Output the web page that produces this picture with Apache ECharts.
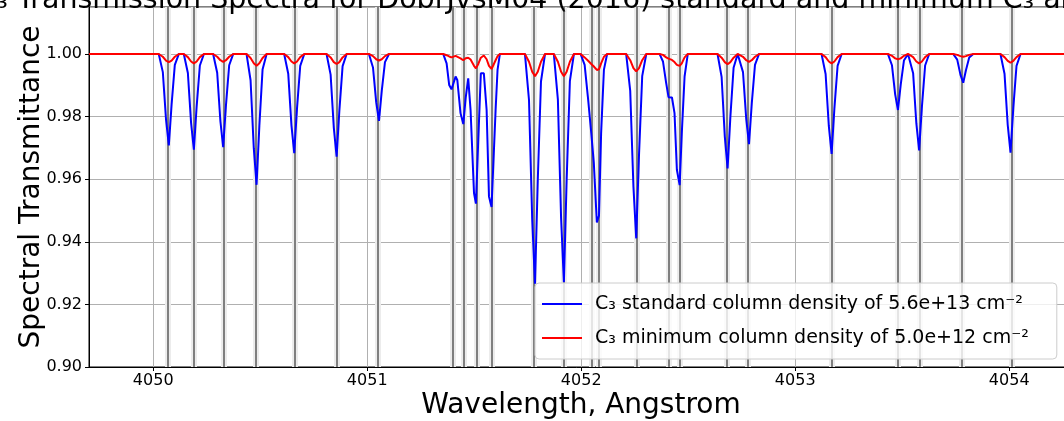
<!DOCTYPE html>
<html>
<head>
<meta charset="utf-8">
<script src="https://cdn.jsdelivr.net/npm/echarts@6/dist/echarts.min.js"></script>
<style>
  html, body { margin: 0; padding: 0; background: #fff; }
  #chart { width: 1064px; height: 421px; }
</style>
</head>
<body>
<div id="chart"></div>
<script>
// line centres (vertical markers), Angstrom
const lineWavelengths = [
  4050.073, 4050.190, 4050.327, 4050.483, 4050.659, 4050.857, 4051.055,
  4051.396, 4051.450, 4051.507, 4051.579, 4051.784, 4051.919, 4052.047,
  4052.078, 4052.257, 4052.414, 4052.460, 4052.684, 4052.784, 4053.170,
  4053.480, 4053.579, 4053.785, 4054.006
]

const xTicks = [4050, 4051, 4052, 4053, 4054]

const wavelength = [
  4049.700,
  4050.026, 4050.045, 4050.060, 4050.073, 4050.086, 4050.101, 4050.120,
  4050.143, 4050.162, 4050.177, 4050.190, 4050.203, 4050.218, 4050.237,
  4050.280, 4050.299, 4050.314, 4050.327, 4050.340, 4050.355, 4050.374,
  4050.436, 4050.455, 4050.470, 4050.483, 4050.496, 4050.511, 4050.530,
  4050.612, 4050.631, 4050.646, 4050.659, 4050.672, 4050.687, 4050.706,
  4050.810, 4050.829, 4050.844, 4050.857, 4050.870, 4050.885, 4050.904,
  4051.008, 4051.027, 4051.042, 4051.055, 4051.068, 4051.083, 4051.102,
  4051.355, 4051.371, 4051.383, 4051.394, 4051.413, 4051.421, 4051.436, 4051.449,
  4051.460, 4051.472, 4051.483, 4051.499, 4051.508, 4051.519, 4051.531, 4051.545,
  4051.558, 4051.569, 4051.581, 4051.589, 4051.600, 4051.609, 4051.620,
  4051.737, 4051.756, 4051.771, 4051.784, 4051.797, 4051.812, 4051.831,
  4051.872, 4051.891, 4051.906, 4051.919, 4051.932, 4051.947, 4051.966,
  4051.997, 4052.016, 4052.031, 4052.047, 4052.059, 4052.073, 4052.083, 4052.093, 4052.106, 4052.121,
  4052.210, 4052.229, 4052.244, 4052.257, 4052.270, 4052.285, 4052.304,
  4052.366, 4052.382, 4052.397, 4052.408, 4052.424, 4052.436, 4052.447, 4052.460, 4052.470, 4052.483, 4052.498,
  4052.637, 4052.656, 4052.671, 4052.684, 4052.697, 4052.712, 4052.731,
  4052.737, 4052.756, 4052.771, 4052.784, 4052.797, 4052.812, 4052.831,
  4053.123, 4053.142, 4053.157, 4053.170, 4053.183, 4053.198, 4053.217,
  4053.433, 4053.452, 4053.467, 4053.480, 4053.493, 4053.508, 4053.527,
  4053.532, 4053.551, 4053.566, 4053.579, 4053.592, 4053.607, 4053.626,
  4053.738, 4053.757, 4053.772, 4053.785, 4053.798, 4053.813, 4053.832,
  4053.959, 4053.978, 4053.993, 4054.006, 4054.019, 4054.034, 4054.053,
  4054.298
]

// C3 standard column density 5.6e+13
const standardT = [
  1,
  1, 0.9942, 0.9790, 0.9708, 0.9839, 0.9965, 1,
  1, 0.9939, 0.9780, 0.9694, 0.9832, 0.9963, 1,
  1, 0.9940, 0.9785, 0.9702, 0.9836, 0.9964, 1,
  1, 0.9916, 0.9699, 0.9582, 0.9770, 0.9950, 1,
  1, 0.9937, 0.9772, 0.9683, 0.9826, 0.9962, 1,
  1, 0.9934, 0.9764, 0.9672, 0.9820, 0.9961, 1,
  1, 0.9957, 0.9846, 0.9786, 0.9882, 0.9974, 1,
  1, 0.9970, 0.9901, 0.9887, 0.9928, 0.9917, 0.9811, 0.9776,
  0.9859, 0.9922, 0.9821, 0.9556, 0.9522, 0.9726, 0.9938, 0.9938,
  0.9821, 0.9545, 0.9511, 0.9511, 0.9821, 0.9949, 1,
  1, 0.9853, 0.9472, 0.9266, 0.9596, 0.9912, 1,
  1, 0.9854, 0.9475, 0.9271, 0.9599, 0.9913, 1,
  1, 0.9965, 0.9864, 0.9747, 0.9651, 0.9462, 0.9483, 0.9747, 0.9949, 1,
  1, 0.9882, 0.9576, 0.9411, 0.9676, 0.9929, 1,
  1, 0.9976, 0.9907, 0.9862, 0.9861, 0.9811, 0.9630, 0.9581, 0.9747, 0.9928, 1,
  1, 0.9927, 0.9736, 0.9634, 0.9799, 0.9956, 1,
  1, 0.9942, 0.9793, 0.9712, 0.9842, 0.9965, 1,
  1, 0.9936, 0.9770, 0.9681, 0.9825, 0.9962, 1,
  1, 0.9964, 0.9871, 0.9821, 0.9902, 0.9979, 1,
  1, 0.9938, 0.9778, 0.9692, 0.9831, 0.9963, 1,
  1, 0.9982, 0.9934, 0.9908, 0.9949, 0.9989, 1,
  1, 0.9937, 0.9773, 0.9685, 0.9827, 0.9962, 1,
  1
]

// C3 minimum column density 5.0e+12
const minimumT = [
  1,
  1, 0.9991, 0.9979, 0.9974, 0.9979, 0.9991, 1,
  1, 0.9990, 0.9976, 0.9970, 0.9976, 0.9990, 1,
  1, 0.9991, 0.9980, 0.9975, 0.9980, 0.9991, 1,
  1, 0.9987, 0.9970, 0.9962, 0.9970, 0.9987, 1,
  1, 0.9990, 0.9976, 0.9970, 0.9976, 0.9990, 1,
  1, 0.9989, 0.9974, 0.9968, 0.9974, 0.9989, 1,
  1, 0.9993, 0.9983, 0.9979, 0.9983, 0.9993, 1,
  1, 0.9996, 0.9992, 0.9989, 0.9994, 0.9992, 0.9986, 0.9980,
  0.9986, 0.9988, 0.9982, 0.9962, 0.9954, 0.9968, 0.9988, 0.9995,
  0.9983, 0.9962, 0.9952, 0.9958, 0.9980, 0.9993, 1,
  1, 0.9975, 0.9943, 0.9929, 0.9943, 0.9975, 1,
  1, 0.9975, 0.9943, 0.9929, 0.9943, 0.9975, 1,
  1, 0.9989, 0.9979, 0.9968, 0.9960, 0.9949, 0.9951, 0.9970, 0.9991, 1,
  1, 0.9980, 0.9955, 0.9944, 0.9955, 0.9980, 1,
  1, 0.9997, 0.9989, 0.9985, 0.9981, 0.9974, 0.9965, 0.9962, 0.9970, 0.9989, 1,
  1, 0.9988, 0.9974, 0.9967, 0.9974, 0.9988, 1,
  1, 0.9991, 0.9980, 0.9975, 0.9980, 0.9991, 1,
  1, 0.9990, 0.9976, 0.9970, 0.9976, 0.9990, 1,
  1, 0.9994, 0.9986, 0.9983, 0.9986, 0.9994, 1,
  1, 0.9990, 0.9976, 0.9970, 0.9976, 0.9990, 1,
  1, 0.9997, 0.9993, 0.9991, 0.9993, 0.9997, 1,
  1, 0.9990, 0.9978, 0.9972, 0.9978, 0.9990, 1,
  1
]

const standardName = 'C₃ standard column density of 5.6e+13 cm⁻²'
const minimumName = 'C₃ minimum column density of 5.0e+12 cm⁻²'

const font = 'DejaVu Sans'
const chart = echarts.init(document.getElementById('chart'), null, { renderer: 'canvas' })

function markerSeries(name, width, color, z) {
  return {
    name: name,
    type: 'line',
    data: [],
    silent: true,
    z: z,
    markLine: {
      z: z,
      silent: true,
      animation: false,
      symbol: ['none', 'none'],
      label: { show: false },
      lineStyle: { type: 'solid', width: width, color: color },
      data: lineWavelengths.map(w => ({ xAxis: w }))
    }
  }
}

chart.setOption({
  animation: false,
  title: {
    text: 'C₃ Transmission Spectra for DobrJvsM04 (2016) standard and minimum C₃ absorption',
    left: 581,
    top: -19,
    textAlign: 'center',
    textStyle: { fontFamily: font, fontSize: 28.5, fontWeight: 'normal', color: '#000' }
  },
  grid: {
    left: 89,
    right: -9,
    top: 7,
    bottom: 54,
    show: true,
    borderColor: '#000',
    borderWidth: 1,
    containLabel: false,
    outerBoundsMode: 'none'
  },
  legend: {
    data: [standardName, minimumName],
    orient: 'vertical',
    left: 535,
    top: 283,
    z: 10,
    padding: [10, 28, 10, 6],
    itemGap: 12,
    itemWidth: 40,
    itemHeight: 14,
    itemStyle: { opacity: 0 },
    backgroundColor: 'rgba(255,255,255,0.8)',
    borderColor: '#cccccc',
    borderWidth: 1,
    borderRadius: 4,
    textStyle: { fontFamily: font, fontSize: 19, color: '#000', lineHeight: 22, padding: [0, 0, 0, 8] }
  },
  xAxis: {
    type: 'value',
    min: 4049.7,
    max: 4054.298,
    name: 'Wavelength, Angstrom',
    nameLocation: 'middle',
    nameGap: 25,
    nameMoveOverlap: false,
    nameTextStyle: { fontFamily: font, fontSize: 28, color: '#000' },
    axisLine: { show: true, onZero: false, lineStyle: { color: '#000', width: 1 } },
    axisTick: { show: true, length: 4, lineStyle: { color: '#000' }, customValues: xTicks },
    axisLabel: { fontFamily: font, fontSize: 16, color: '#000', margin: 6, customValues: xTicks, formatter: v => String(v) },
    splitLine: { show: true, lineStyle: { color: '#b0b0b0', width: 1 } }
  },
  yAxis: {
    type: 'value',
    min: 0.9,
    max: 1.015,
    interval: 0.02,
    name: 'Spectral Transmittance',
    nameLocation: 'middle',
    nameGap: 43,
    nameMoveOverlap: false,
    nameTextStyle: { fontFamily: font, fontSize: 28, color: '#000' },
    axisLine: { show: true, lineStyle: { color: '#000', width: 1 } },
    axisTick: { show: true, length: 4, lineStyle: { color: '#000' } },
    axisLabel: { fontFamily: font, fontSize: 16, color: '#000', margin: 7, showMaxLabel: false, formatter: v => v.toFixed(2) },
    splitLine: { show: true, lineStyle: { color: '#b0b0b0', width: 1 } }
  },
  series: [
    markerSeries('halo', 6, '#ececec', 1),
    markerSeries('marker', 2, '#7f7f7f', 2),
    {
      name: standardName,
      type: 'line',
      z: 3,
      symbol: 'none',
      lineStyle: { color: '#0000ff', width: 2 },
      itemStyle: { color: '#0000ff' },
      data: wavelength.map((w, i) => [w, standardT[i]])
    },
    {
      name: minimumName,
      type: 'line',
      z: 4,
      symbol: 'none',
      lineStyle: { color: '#ff0000', width: 2 },
      itemStyle: { color: '#ff0000' },
      data: wavelength.map((w, i) => [w, minimumT[i]])
    }
  ]
})
</script>
</body>
</html>
